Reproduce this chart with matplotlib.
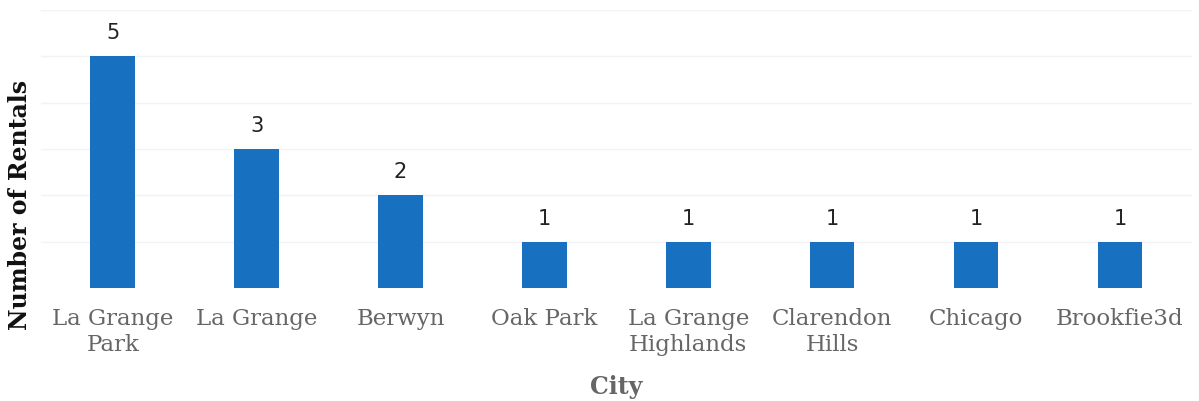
import matplotlib
matplotlib.use("Agg")
import matplotlib.pyplot as plt

cities = ["La Grange\nPark", "La Grange", "Berwyn", "Oak Park", "La Grange\nHighlands",
          "Clarendon\nHills", "Chicago", "Brookfie3d"]
rentals = [5, 3, 2, 1, 1, 1, 1, 1]

fig = plt.figure(figsize=(11.99, 4.02), dpi=100)
ax = fig.add_axes([0.034, 0.281, 0.960, 0.692])

x = range(len(cities))
bars = ax.bar(x, rentals, width=0.31, color="#1870c1", zorder=3)
for xi, v in zip(x, rentals):
    ax.text(xi, v + 0.3, str(v), ha="center", va="bottom", fontsize=15,
            family="DejaVu Sans", color="#222222")

ax.set_xlim(-0.5, len(cities) - 0.5)
ax.set_ylim(0, 6)
ax.set_yticks([1, 2, 3, 4, 5, 6])
ax.yaxis.grid(True, color="#f3f3f3", linewidth=1, zorder=0)
ax.tick_params(axis="y", left=False, labelleft=False)
ax.tick_params(axis="x", length=0, pad=14)
ax.set_xticks(list(x))
ax.set_xticklabels(cities, fontsize=16.5, family="DejaVu Serif", color="#666666",
                   linespacing=1.2)
for s in ax.spines.values():
    s.set_visible(False)

fig.text(0.017, 0.49, "Number of Rentals", rotation=90, ha="center", va="center",
         fontsize=17, family="DejaVu Serif", fontweight="bold", color="#111111")
ax.set_xlabel("City", fontsize=17, family="DejaVu Serif", fontweight="bold",
              color="#666666", labelpad=14)

fig.savefig("out.png", dpi=100)
